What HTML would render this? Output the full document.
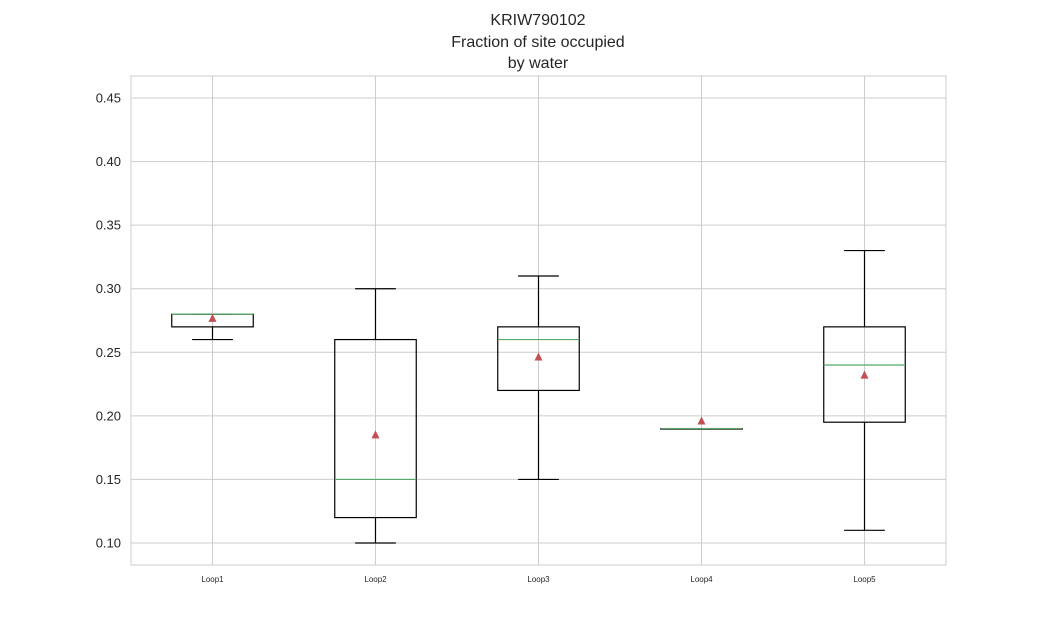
<!DOCTYPE html>
<html><head><meta charset="utf-8"><style>
body{margin:0;background:#fff;}
svg{display:block;font-family:"Liberation Sans",Arial,sans-serif;}
</style></head><body>
<svg id="chart" width="1050" height="635">
<g fill="#262626" font-size="16" text-anchor="middle">
<text x="538" y="25">KRIW790102</text>
<text x="538" y="47">Fraction of site occupied</text>
<text x="538" y="68">by water</text>
</g>
<g id="grid"></g>
<g id="boxes"></g>
<rect x="131" y="76" width="815" height="489" fill="none" stroke="#cccccc" stroke-width="1"/>
</svg>
<script>
const categories=["Loop1","Loop2","Loop3","Loop4","Loop5"];
const whisLow=[0.26,0.10,0.15,0.19,0.11];
const q1=[0.27,0.12,0.22,0.19,0.195];
const medians=[0.28,0.15,0.26,0.19,0.24];
const q3=[0.28,0.26,0.27,0.19,0.27];
const whisHigh=[0.28,0.30,0.31,0.19,0.33];
const means=[0.2767,0.185,0.2463,0.196,0.232];
const yTicks=[0.10,0.15,0.20,0.25,0.30,0.35,0.40,0.45];
const L=131,R=946,T=76,B=565;
const yMin=0.0827,yMax=0.4673;
const y=v=>B-(v-yMin)/(yMax-yMin)*(B-T);
const slot=(R-L)/categories.length;
const x=i=>L+slot*(i+0.5);
const NS="http://www.w3.org/2000/svg";
function mk(tag,attrs,parent){const e=document.createElementNS(NS,tag);for(const k in attrs)e.setAttribute(k,attrs[k]);parent.appendChild(e);return e;}
const grid=document.getElementById('grid'),boxes=document.getElementById('boxes');
yTicks.forEach(t=>{
 const l=mk('line',{x1:L,x2:R,y1:y(t),y2:y(t),stroke:'#cccccc','stroke-width':1},grid);
 
 
 const tx=mk('text',{x:121,y:y(t)+4.5,'text-anchor':'end','font-size':13,fill:'#262626'},grid);
 tx.textContent=t.toFixed(2);
 
 
});
categories.forEach((c,i)=>{
 const cx=x(i);
 const vl=mk('line',{x1:cx,x2:cx,y1:T,y2:B,stroke:'#cccccc','stroke-width':1},grid);
 
 
 const lb=mk('text',{x:cx,y:582,'text-anchor':'middle','font-size':8,fill:'#262626'},grid);
 lb.textContent=c;
 
 
 const g=mk('g',{},boxes);
 
 
 const hw=slot/4, cw=slot/8;
 mk('line',{x1:cx,x2:cx,y1:y(whisHigh[i]),y2:y(q3[i]),stroke:'#000','stroke-width':1.2},g);
 mk('line',{x1:cx,x2:cx,y1:y(q1[i]),y2:y(whisLow[i]),stroke:'#000','stroke-width':1.2},g);
 mk('line',{x1:cx-cw,x2:cx+cw,y1:y(whisHigh[i]),y2:y(whisHigh[i]),stroke:'#000','stroke-width':1.2},g);
 mk('line',{x1:cx-cw,x2:cx+cw,y1:y(whisLow[i]),y2:y(whisLow[i]),stroke:'#000','stroke-width':1.2},g);
 mk('rect',{x:cx-hw,y:y(q3[i]),width:hw*2,height:Math.max(0.5,y(q1[i])-y(q3[i])),fill:'none',stroke:'#000','stroke-width':1.2},g);
 const m=mk('line',{x1:cx-hw,x2:cx+hw,y1:y(medians[i]),y2:y(medians[i]),stroke:'#55a868','stroke-width':1.2},g);
 
 
 const my=y(means[i]);
 const tri=mk('polygon',{points:`${cx},${my-4.5} ${cx-4},${my+3.5} ${cx+4},${my+3.5}`,fill:'#c44e52'},g);
 
 
});
</script>
</body></html>
